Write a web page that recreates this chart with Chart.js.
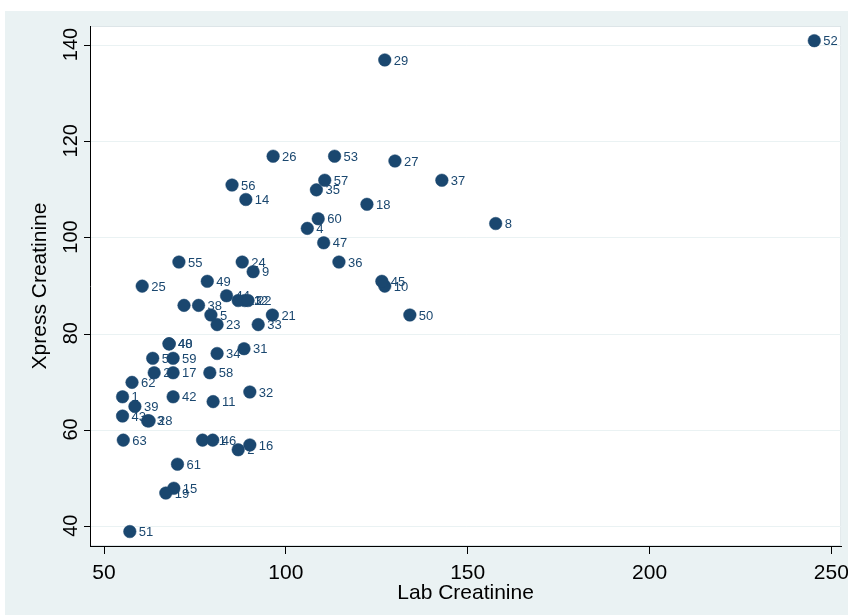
<!DOCTYPE html>
<html>
<head>
<meta charset="utf-8">
<script src="https://cdn.jsdelivr.net/npm/chart.js@4.4.1/dist/chart.umd.min.js"></script>
<style>
  html, body { margin: 0; padding: 0; background: #fff; }
  canvas { display: block; }
</style>
</head>
<body>
<canvas id="myChart" width="848" height="615"></canvas>
<script>
// observation numbers used as marker labels
const patientIds = [
  1, 2, 3, 4, 5, 8, 9, 10, 11, 12,
  13, 14, 15, 16, 17, 18, 19, 20, 21, 22,
  23, 24, 25, 26, 27, 28, 29, 6, 31, 32,
  33, 34, 35, 36, 37, 38, 39, 40, 41, 42,
  43, 44, 45, 46, 47, 48, 49, 50, 51, 52,
  53, 54, 55, 56, 57, 58, 59, 60, 61, 62,
  63
];
const labCreatinine = [
  55.1, 86.9, 62.0, 105.9, 79.4, 157.7, 91.0, 127.2, 80.0, 88.7,
  86.9, 89.0, 69.2, 90.1, 69.0, 122.3, 67.0, 63.8, 96.3, 89.6,
  81.1, 88.0, 60.5, 96.5, 130.0, 62.4, 127.2, 72.0, 88.5, 90.1,
  92.4, 81.1, 108.4, 114.6, 142.9, 76.0, 58.5, 67.9, 77.1, 69.0,
  55.1, 83.7, 126.4, 79.9, 110.4, 67.9, 78.4, 134.1, 57.1, 245.3,
  113.4, 63.4, 70.6, 85.2, 110.7, 79.1, 69.0, 108.9, 70.2, 57.7,
  55.3
];
const xpressCreatinine = [
  67, 56, 62, 102, 84, 103, 93, 90, 66, 87,
  87, 108, 48, 57, 72, 107, 47, 72, 84, 87,
  82, 95, 90, 117, 116, 62, 137, 86, 77, 68,
  82, 76, 110, 95, 112, 86, 65, 78, 58, 67,
  63, 88, 91, 58, 99, 78, 91, 84, 39, 141,
  117, 75, 95, 111, 112, 72, 75, 104, 53, 70,
  58
];
const xTickValues = [50, 100, 150, 200, 250];
const yTickValues = [40, 60, 80, 100, 120, 140];

const navy = '#1a476f';
const bluishGray = '#eaf2f3';
const family = '"Liberation Sans", Arial, Helvetica, sans-serif';

const points = labCreatinine.map((x, i) => ({ x: x, y: xpressCreatinine[i] }));

// stata style background: light outer region, white plot region
const backgroundPlugin = {
  id: 'stataBackground',
  beforeDraw(chart) {
    const ctx = chart.ctx;
    const a = chart.chartArea;
    ctx.save();
    ctx.fillStyle = '#fff';
    ctx.fillRect(0, 0, chart.width, chart.height);
    ctx.fillStyle = bluishGray;
    ctx.fillRect(5, 11, chart.width - 5, chart.height - 11);
    ctx.fillStyle = '#fff';
    ctx.fillRect(a.left, a.top, a.right - a.left, a.bottom - a.top);
    ctx.strokeStyle = '#dde5e8';
    ctx.lineWidth = 1;
    ctx.strokeRect(a.left + 0.5, a.top + 0.5, a.right - a.left - 1, a.bottom - a.top - 1);
    ctx.restore();
  }
};

// labels go under the markers, like in the original
const pointLabelPlugin = {
  id: 'pointLabels',
  beforeDatasetsDraw(chart) {
    const ctx = chart.ctx;
    const meta = chart.getDatasetMeta(0);
    ctx.save();
    ctx.font = '13px ' + family;
    ctx.fillStyle = navy;
    ctx.textAlign = 'left';
    ctx.textBaseline = 'middle';
    meta.data.forEach((pt, i) => {
      ctx.fillText(String(patientIds[i]), pt.x + 9, pt.y + 1);
    });
    ctx.restore();
  }
};

// vertical y tick labels
const yTickPlugin = {
  id: 'rotatedYTicks',
  afterDraw(chart) {
    const scale = chart.scales.y;
    const ctx = chart.ctx;
    ctx.save();
    ctx.font = '20px ' + family;
    ctx.fillStyle = '#000';
    ctx.textAlign = 'center';
    ctx.textBaseline = 'alphabetic';
    yTickValues.forEach(v => {
      ctx.save();
      ctx.translate(scale.left + 77, scale.getPixelForValue(v) - 1);
      ctx.rotate(-Math.PI / 2);
      ctx.fillText(String(v), 0, 0);
      ctx.restore();
    });
    ctx.restore();
  }
};

const config = {
  type: 'scatter',
  data: {
    datasets: [{
      data: points,
      backgroundColor: navy,
      borderColor: navy,
      borderWidth: 0.5,
      pointRadius: 6.3,
      pointHoverRadius: 6.3
    }]
  },
  options: {
    responsive: false,
    animation: false,
    devicePixelRatio: 1,
    layout: { padding: { top: 26, right: 6, left: 0, bottom: 0 } },
    plugins: {
      legend: { display: false },
      tooltip: { enabled: false }
    },
    scales: {
      x: {
        type: 'linear',
        min: 46.15,
        max: 252.7,
        afterBuildTicks: s => { s.ticks = xTickValues.map(v => ({ value: v })); },
        afterFit: s => { s.height = 69; s.paddingLeft = 0; s.paddingRight = 0; },
        grid: { drawOnChartArea: false, drawTicks: true, tickLength: 8, tickColor: '#000', tickWidth: 1 },
        border: { display: true, color: '#000', width: 1 },
        ticks: { color: '#000', font: { size: 21, family: family }, padding: 7, maxRotation: 0, autoSkip: false },
        title: { display: true, text: 'Lab Creatinine', color: '#000', font: { size: 21, family: family }, padding: { top: 0, bottom: 9 } }
      },
      y: {
        type: 'linear',
        min: 36,
        max: 144.05,
        afterBuildTicks: s => { s.ticks = yTickValues.map(v => ({ value: v })); },
        afterFit: s => { s.width = 90; s.paddingTop = 0; s.paddingBottom = 0; },
        grid: { color: bluishGray, lineWidth: 1, drawTicks: true, tickLength: 6, tickColor: '#000', tickWidth: 1 },
        border: { display: true, color: '#000', width: 1 },
        ticks: { callback: () => '', padding: 0 },
        title: { display: true, text: 'Xpress Creatinine', color: '#000', font: { size: 21, family: family }, padding: { top: 28, bottom: 0 } }
      }
    }
  },
  plugins: [backgroundPlugin, pointLabelPlugin, yTickPlugin]
};

const myChart = new Chart(document.getElementById('myChart'), config);
</script>
</body>
</html>
